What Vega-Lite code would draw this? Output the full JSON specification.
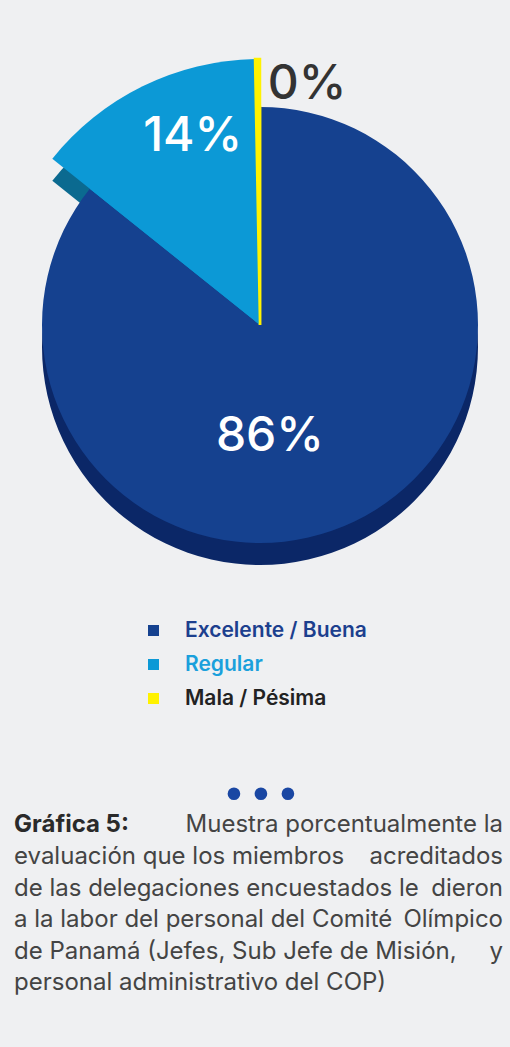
{
  "$schema": "https://vega.github.io/schema/vega-lite/v6.json",
  "background": "#eff0f2",
  "padding": {"left": 14, "top": 0, "right": 4, "bottom": 48},
  "spacing": 128,
  "config": {"view": {"stroke": null}, "font": "Inter"},
  "datasets": {
    "pie": [
      {"categoria": "Excelente / Buena", "porcentaje": 86, "etiqueta": "86%", "orden": 1},
      {"categoria": "Regular", "porcentaje": 14, "etiqueta": "14%", "orden": 2},
      {"categoria": "Mala / Pésima", "porcentaje": 0.3, "etiqueta": "0%", "orden": 3}
    ],
    "dots": [
      {"punto": 1, "renglon": 0},
      {"punto": 2, "renglon": 0},
      {"punto": 3, "renglon": 0}
    ],
    "caption": [
      {"renglon": 1, "lado": "izq", "texto": "Gráfica 5:"},
      {"renglon": 1, "lado": "der", "texto": "Muestra porcentualmente la"},
      {"renglon": 2, "lado": "izq", "texto": "evaluación que los miembros"},
      {"renglon": 2, "lado": "der", "texto": "acreditados"},
      {"renglon": 3, "lado": "izq", "texto": "de las delegaciones encuestados le"},
      {"renglon": 3, "lado": "der", "texto": "dieron"},
      {"renglon": 4, "lado": "izq", "texto": "a la labor del personal del Comité"},
      {"renglon": 4, "lado": "der", "texto": "Olímpico"},
      {"renglon": 5, "lado": "izq", "texto": "de Panamá (Jefes, Sub Jefe de Misión,"},
      {"renglon": 5, "lado": "der", "texto": "y"},
      {"renglon": 6, "lado": "izq", "texto": "personal administrativo del COP)"}
    ]
  },
  "vconcat": [
    {
      "width": 492,
      "height": 650,
      "data": {"name": "pie"},
      "encoding": {
        "theta": {"field": "porcentaje", "type": "quantitative", "stack": true},
        "order": {"field": "orden", "type": "quantitative"}
      },
      "layer": [
        {
          "mark": {"type": "arc", "outerRadius": 218, "yOffset": 22},
          "encoding": {
            "color": {"condition": {"test": "datum.categoria === 'Regular'", "value": "#0b6a90"}, "value": "#0b2767"}
          }
        },
        {
          "transform": [
            {"stack": "porcentaje", "groupby": [], "sort": [{"field": "orden", "order": "ascending"}], "as": ["inicio", "fin"]},
            {"filter": "datum.categoria === 'Regular'"}
          ],
          "mark": {"type": "arc", "outerRadius": 266, "yOffset": 22},
          "encoding": {
            "theta": {"field": "inicio", "type": "quantitative"},
            "theta2": {"field": "fin"},
            "color": {"value": "#0b6a90"}
          }
        },
        {
          "mark": {"type": "arc", "outerRadius": 218, "strokeWidth": 2.5},
          "encoding": {
            "color": {
              "field": "categoria",
              "type": "nominal",
              "scale": {
                "domain": ["Excelente / Buena", "Regular", "Mala / Pésima"],
                "range": ["#15418f", "#0c99d6", "#fff200"]
              },
              "legend": {
                "orient": "none",
                "legendX": 129,
                "legendY": 620,
                "title": null,
                "symbolType": "square",
                "symbolSize": 121,
                "labelFontSize": 21,
                "labelFontWeight": 600,
                "labelFont": "Inter",
                "labelLimit": 400,
                "labelColor": {"expr": "datum.label === 'Regular' ? '#1aa0dc' : (datum.label === 'Mala / Pésima' ? '#222222' : '#1c3f8e')"},
                "rowPadding": 12,
                "labelOffset": 21,
                "padding": 0
              }
            },
            "stroke": {"condition": {"test": "datum.categoria === 'Mala / Pésima'", "value": "#fff200"}, "value": "transparent"}
          }
        },
        {
          "transform": [
            {"stack": "porcentaje", "groupby": [], "sort": [{"field": "orden", "order": "ascending"}], "as": ["inicio", "fin"]},
            {"filter": "datum.categoria !== 'Excelente / Buena'"}
          ],
          "mark": {"type": "arc", "outerRadius": 266, "strokeWidth": 2.5},
          "encoding": {
            "theta": {"field": "inicio", "type": "quantitative"},
            "theta2": {"field": "fin"},
            "color": {"field": "categoria", "type": "nominal", "legend": null},
            "stroke": {"condition": {"test": "datum.categoria === 'Mala / Pésima'", "value": "#fff200"}, "value": "transparent"}
          }
        },
        {
          "mark": {"type": "text", "radius": 120, "dx": -42, "dy": 4, "fontSize": 48, "fontWeight": 500, "color": "#ffffff"},
          "encoding": {
            "text": {"condition": {"test": "datum.categoria === 'Excelente / Buena'", "field": "etiqueta"}, "value": ""}
          }
        },
        {
          "mark": {"type": "text", "radius": 200, "dx": 21, "dy": -9, "fontSize": 48, "fontWeight": 500, "color": "#ffffff"},
          "encoding": {
            "text": {"condition": {"test": "datum.categoria === 'Regular'", "field": "etiqueta"}, "value": ""}
          }
        },
        {
          "mark": {"type": "text", "radius": 240, "dx": 10, "align": "left", "fontSize": 48, "fontWeight": 500, "color": "#333333"},
          "encoding": {
            "text": {"condition": {"test": "datum.categoria === 'Mala / Pésima'", "field": "etiqueta"}, "value": ""}
          }
        }
      ]
    },
    {
      "width": 489,
      "height": 221,
      "resolve": {"scale": {"x": "independent"}},
      "encoding": {
        "y": {"field": "renglon", "type": "ordinal", "axis": null, "scale": {"domain": [0, 1, 2, 3, 4, 5, 6]}}
      },
      "layer": [
        {
          "data": {"name": "dots"},
          "mark": {"type": "point", "filled": true, "size": 160, "opacity": 1, "color": "#1a47a3"},
          "encoding": {
            "x": {"field": "punto", "type": "quantitative", "axis": null, "scale": {"domain": [-7.15, 10.97], "nice": false, "zero": false}}
          }
        },
        {
          "data": {"name": "caption"},
          "transform": [{"filter": "datum.lado === 'izq' && datum.renglon > 1"}],
          "mark": {"type": "text", "align": "left", "fontSize": 24, "color": "#444444"},
          "encoding": {
            "x": {"field": "lado", "type": "nominal", "axis": null, "scale": {"type": "point", "padding": 0, "domain": ["izq", "der"]}},
            "text": {"field": "texto"}
          }
        },
        {
          "data": {"name": "caption"},
          "transform": [{"filter": "datum.lado === 'izq' && datum.renglon === 1"}],
          "mark": {"type": "text", "align": "left", "fontSize": 24, "fontWeight": 700, "color": "#2a2a2a"},
          "encoding": {
            "x": {"field": "lado", "type": "nominal", "axis": null, "scale": {"type": "point", "padding": 0, "domain": ["izq", "der"]}},
            "text": {"field": "texto"}
          }
        },
        {
          "data": {"name": "caption"},
          "transform": [{"filter": "datum.lado === 'der'"}],
          "mark": {"type": "text", "align": "right", "fontSize": 24, "color": "#444444"},
          "encoding": {
            "x": {"field": "lado", "type": "nominal", "axis": null, "scale": {"type": "point", "padding": 0, "domain": ["izq", "der"]}},
            "text": {"field": "texto"}
          }
        }
      ]
    }
  ]
}
